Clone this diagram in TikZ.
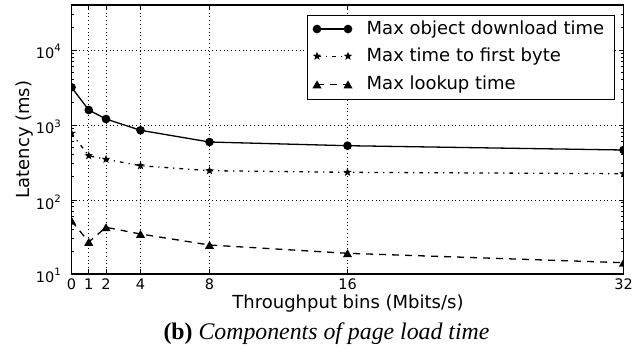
\documentclass[tikz,border=0pt]{standalone}
\usepackage{fontspec}
\setmainfont{DejaVu Sans}
\newfontfamily\capfont{Liberation Serif}
\usetikzlibrary{shapes.geometric}
\tikzset{
  gridline/.style={line width=0.7pt, dash pattern=on 1pt off 2.8pt},
  axframe/.style={line width=1.3pt},
  tickline/.style={line width=0.8pt},
  dlline/.style={line width=1.3pt},
  ttline/.style={line width=1.3pt, dash pattern=on 3.8pt off 5pt on 1.2pt off 5pt},
  lkline/.style={line width=1.3pt, dash pattern=on 7pt off 6pt},
  circmark/.style={circle, fill=black, inner sep=0pt, minimum size=8.7pt},
  starmark/.style={star, star points=5, star point ratio=2.4, fill=black, inner sep=0pt, minimum size=9pt},
  trimark/.style={regular polygon, regular polygon sides=3, fill=black, inner sep=0pt, minimum size=10.5pt, yshift=-1.2pt},
  ticklab/.style={inner sep=0pt, font=\fontsize{14.5}{16}\selectfont},
  axlab/.style={inner sep=0pt, font=\fontsize{18}{20}\selectfont},
  leglab/.style={inner sep=0pt, anchor=base west, font=\fontsize{18}{20}\selectfont},
}
\newcommand{\decade}[1]{10\raisebox{6.5pt}{\fontsize{10.2}{11}\selectfont #1}}
\begin{document}
\begin{tikzpicture}[x=1pt,y=-1pt]
\useasboundingbox (0,0) rectangle (644,354);
% grid
\foreach \xx in {88.75,106,140.5,209.5,347.5}
  \draw[gridline] (\xx,5) -- (\xx,274);
\foreach \yy in {50,125.33,200.67}
  \draw[gridline] (71.5,\yy) -- (623.5,\yy);
% data coordinates
\coordinate (a0) at (71.5,87.3);
\coordinate (a1) at (88.75,110);
\coordinate (a2) at (106,119);
\coordinate (a4) at (140.5,130.3);
\coordinate (a8) at (209.5,142);
\coordinate (a16) at (347.5,145.7);
\coordinate (a32) at (623.5,150);
\coordinate (b0) at (71.5,133.3);
\coordinate (b1) at (88.75,155.7);
\coordinate (b2) at (106,159.3);
\coordinate (b4) at (140.5,165.7);
\coordinate (b8) at (209.5,170.7);
\coordinate (b16) at (347.5,172.3);
\coordinate (b32) at (623.5,173.7);
\coordinate (c0) at (71.5,220.7);
\coordinate (c1) at (88.75,242);
\coordinate (c2) at (106,227.3);
\coordinate (c4) at (140.5,234);
\coordinate (c8) at (209.5,245);
\coordinate (c16) at (347.5,253.3);
\coordinate (c32) at (623.5,262.7);
\begin{scope}
\clip (71.5,5) rectangle (623.5,274);
\draw[dlline] (a0) -- (a1) -- (a2) -- (a4) -- (a8) -- (a16) -- (a32);
\draw[ttline] (b0) -- (b1) -- (b2) -- (b4) -- (b8) -- (b16) -- (b32);
\draw[lkline] (c0) -- (c1) -- (c2) -- (c4) -- (c8) -- (c16) -- (c32);
\foreach \p in {0,1,2,4,8,16,32} {
  \node[circmark] (ma\p) at (a\p) {};
  \node[starmark] (mb\p) at (b\p) {};
  \node[trimark] (mc\p) at (c\p) {};
}
\end{scope}
% ticks
\foreach \xx in {71.5,88.75,106,140.5,209.5,347.5,623.5} {
  \draw[tickline] (\xx,274) -- ++(0,-5);
  \draw[tickline] (\xx,5) -- ++(0,5);
}
\foreach \yy in {50,125.33,200.67,274} {
  \draw[tickline] (71.5,\yy) -- ++(5,0);
  \draw[tickline] (623.5,\yy) -- ++(-5,0);
}
\foreach \d in {0,1,2} {
  \foreach \k in {2,...,9} {
    \pgfmathsetmacro\yy{274-(\d+log10(\k))*74.67}
    \draw[tickline] (71.5,\yy) -- ++(2.5,0);
    \draw[tickline] (623.5,\yy) -- ++(-2.5,0);
  }
}
\foreach \k in {2,3} {
  \pgfmathsetmacro\yy{274-(3+log10(\k))*74.67}
  \draw[tickline] (71.5,\yy) -- ++(2.5,0);
  \draw[tickline] (623.5,\yy) -- ++(-2.5,0);
}
% frame
\draw[axframe] (71.5,5) rectangle (623.5,274);
% tick labels
\node[ticklab, anchor=base] (x0) at (71.5,289.5) {0};
\node[ticklab, anchor=base] (x1) at (88.75,289.5) {1};
\node[ticklab, anchor=base] (x2) at (106,289.5) {2};
\node[ticklab, anchor=base] (x4) at (140.5,289.5) {4};
\node[ticklab, anchor=base] (x8) at (209.5,289.5) {8};
\node[ticklab, anchor=base] (x16) at (347.5,289.5) {16};
\node[ticklab, anchor=base] (x32) at (623.5,289.5) {32};
\node[ticklab, anchor=base east] (y4) at (61,58.3) {\decade{4}};
\node[ticklab, anchor=base east] (y3) at (61,133.6) {\decade{3}};
\node[ticklab, anchor=base east] (y2) at (61,209) {\decade{2}};
\node[ticklab, anchor=base east] (y1) at (61,282.3) {\decade{1}};
% axis labels
\node[axlab, anchor=base] (xlab) at (348,308.5) {Throughput bins (Mbits/s)};
\node[axlab, anchor=base, rotate=90] (ylab) at (29.3,139.5) {Latency (ms)};
% caption
\node[inner sep=0pt, anchor=base, font=\capfont\fontsize{23.8}{25}\selectfont] (cap) at (326.5,339.5) {\textbf{(b)} \textit{Components of page load time}};
% legend
\node[draw, line width=0.9pt, fill=white, anchor=north west, minimum width=307pt, minimum height=84.3pt, inner sep=0pt] (legend) at (307.3,14.7) {};
\coordinate (la1) at (317,29);
\coordinate (la2) at (348,29);
\coordinate (lb1) at (317,56.2);
\coordinate (lb2) at (348,56.2);
\coordinate (lc1) at (317,84.5);
\coordinate (lc2) at (348,84.5);
\draw[dlline] (la1) -- (la2);
\draw[ttline] (lb1) -- (lb2);
\draw[lkline] (lc1) -- (lc2);
\node[circmark] (lma1) at (la1) {};
\node[circmark] (lma2) at (la2) {};
\node[starmark] (lmb1) at (lb1) {};
\node[starmark] (lmb2) at (lb2) {};
\node[trimark] (lmc1) at (lc1) {};
\node[trimark] (lmc2) at (lc2) {};
\node[leglab] (lt1) at (366.5,34.3) {Max object download time};
\node[leglab] (lt2) at (366.5,61) {Max time to first byte};
\node[leglab] (lt3) at (366.5,89) {Max lookup time};
\end{tikzpicture}
\end{document}
